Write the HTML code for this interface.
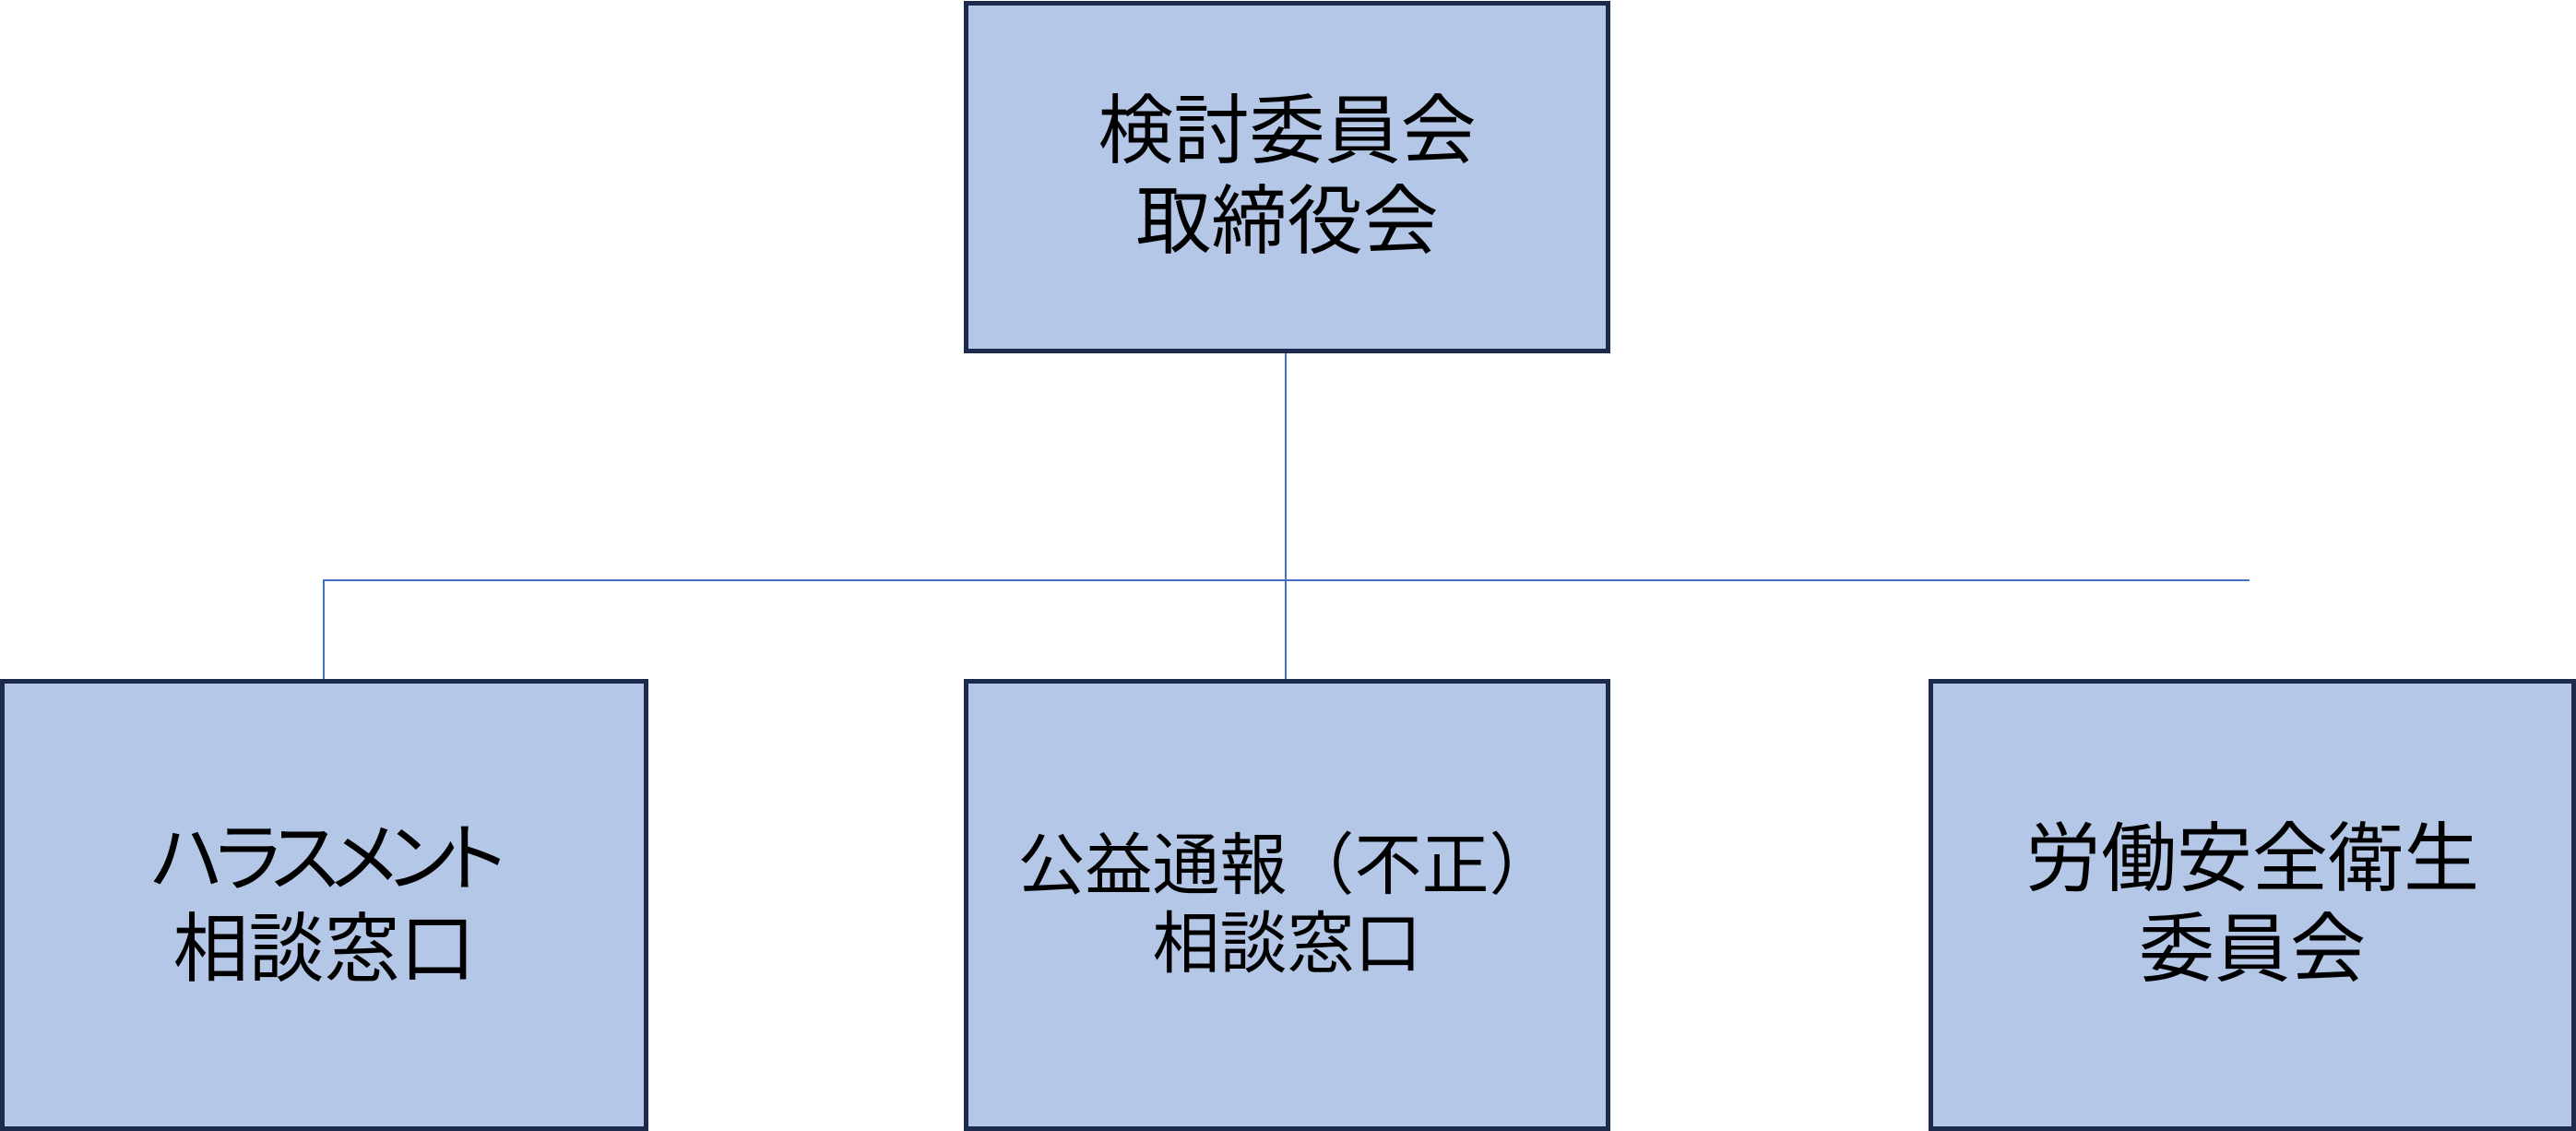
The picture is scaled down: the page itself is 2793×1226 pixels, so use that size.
<!DOCTYPE html>
<html><head><meta charset="utf-8"><style>
html,body{margin:0;padding:0;background:#fff;}
body{width:2793px;height:1220px;position:relative;overflow:hidden;font-family:"Liberation Sans","Noto Sans CJK JP",sans-serif;}
.box{position:absolute;box-sizing:border-box;background:#b4c7e7;border:5px solid #1c2b4d;display:flex;align-items:center;justify-content:center;text-align:center;color:#000;}
.big{font-size:82px;line-height:98px;}
.mid{font-size:73px;line-height:85px;}
.l{position:absolute;background:#4472c4;}
.k{font-feature-settings:"palt";letter-spacing:-9px;}
</style></head><body>
<div class="l" style="left:1393px;top:380px;width:2px;height:358px;"></div>
<div class="l" style="left:351px;top:628px;width:2088px;height:2px;"></div>
<div class="l" style="left:350px;top:628px;width:2px;height:110px;"></div>
<div class="box big" style="left:1045px;top:1px;width:701px;height:382px;">検討委員会<br>取締役会</div>
<div class="box big" style="left:0px;top:736px;width:703px;height:490px;"><div><span class="k">ハラスメント</span><br>相談窓口</div></div>
<div class="box mid" style="left:1045px;top:736px;width:701px;height:490px;"><div><span style="position:relative;left:0px">公益通報（不正）</span><br>相談窓口</div></div>
<div class="box big" style="left:2091px;top:736px;width:702px;height:490px;">労働安全衛生<br>委員会</div>
</body></html>
